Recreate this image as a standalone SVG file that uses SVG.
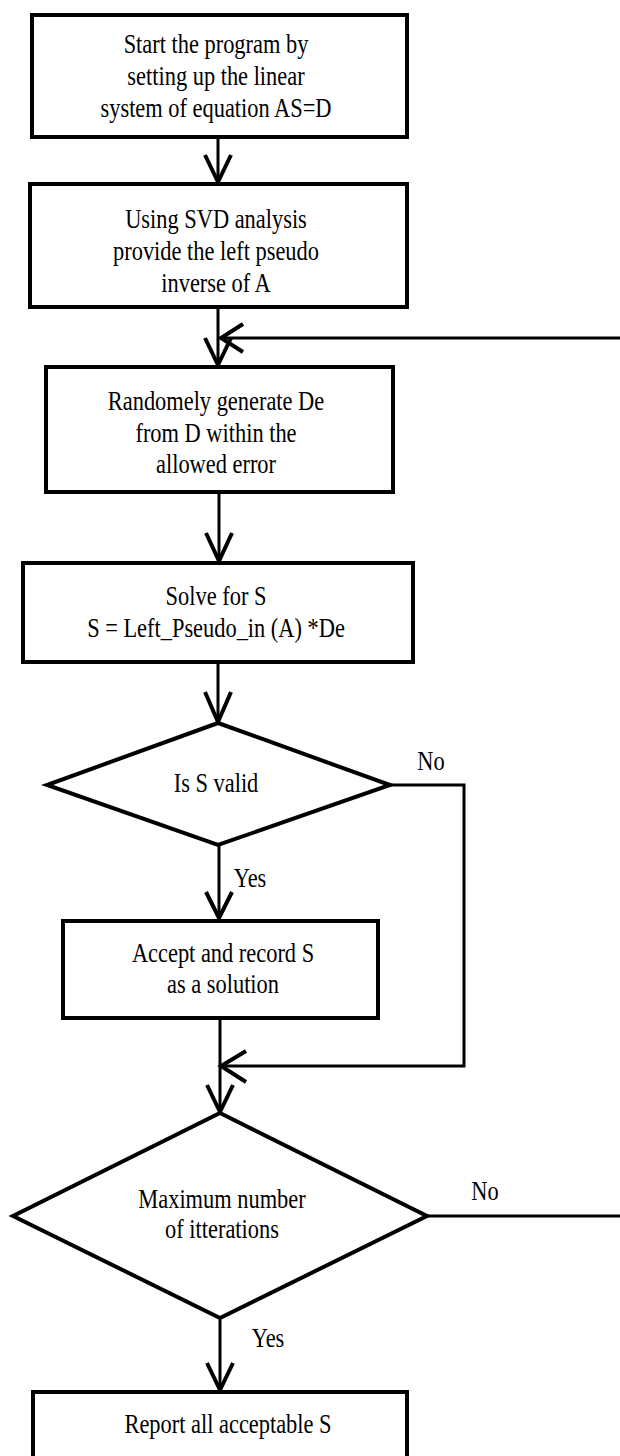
<svg xmlns="http://www.w3.org/2000/svg" width="620" height="1456" viewBox="0 0 620 1456">
<style>
.box{fill:#fff;stroke:#000;stroke-width:4}
.con{fill:none;stroke:#000;stroke-width:3}
.head{fill:none;stroke:#000;stroke-width:4}
text{font-family:"Liberation Serif","Times New Roman",serif;font-size:27px;fill:#000;text-anchor:middle}
</style>
<rect width="620" height="1456" fill="#fff"/>
<g id="connectors">
<path class="con" d="M218,137 V183"/>
<path class="head" d="M205,155 L218,182 L231,155"/>
<path class="con" d="M218,307 V365"/>
<path class="head" d="M205,338 L218,365 L231,338"/>
<path class="con" d="M620,338 H221"/>
<path class="head" d="M243,324 L221,338 L243,352"/>
<path class="con" d="M219,492 V561"/>
<path class="head" d="M206,533 L219,561 L232,533"/>
<path class="con" d="M218,662 V722"/>
<path class="head" d="M205,692 L218,722 L231,692"/>
<path class="con" d="M219,845 V918"/>
<path class="head" d="M206,892 L219,918 L232,892"/>
<path class="con" d="M390,785 H464 V1066 H221"/>
<path class="head" d="M246,1051 L221,1066 L246,1082"/>
<path class="con" d="M220,1018 V1112"/>
<path class="head" d="M207,1085 L220,1112 L233,1085"/>
<path class="con" d="M427,1216 H620"/>
<path class="con" d="M220,1318 V1390"/>
<path class="head" d="M207,1363 L220,1390 L233,1363"/>
<text transform="translate(431,770) scale(0.83,1)">No</text>
<text transform="translate(250,887) scale(0.83,1)">Yes</text>
<text transform="translate(485,1200) scale(0.83,1)">No</text>
<text transform="translate(268,1347) scale(0.83,1)">Yes</text>
</g>
<g id="n1">
<rect class="box" x="32" y="15" width="375" height="122"/>
<text transform="translate(216,53) scale(0.83,1)">Start the program by</text>
<text transform="translate(216,85) scale(0.83,1)">setting up the linear</text>
<text transform="translate(216,117) scale(0.83,1)">system of equation AS=D</text>
</g>
<g id="n2">
<rect class="box" x="30" y="184" width="377" height="123"/>
<text transform="translate(216,228) scale(0.83,1)">Using SVD analysis</text>
<text transform="translate(216,260) scale(0.83,1)">provide the left pseudo</text>
<text transform="translate(216,292) scale(0.83,1)">inverse of A</text>
</g>
<g id="n3">
<rect class="box" x="46" y="367" width="347" height="125"/>
<text transform="translate(216,410) scale(0.83,1)">Randomely generate De</text>
<text transform="translate(216,442) scale(0.83,1)">from D within the</text>
<text transform="translate(216,473) scale(0.83,1)">allowed error</text>
</g>
<g id="n4">
<rect class="box" x="23" y="563" width="390" height="99"/>
<text transform="translate(216,605) scale(0.83,1)">Solve for S</text>
<text transform="translate(216,637) scale(0.83,1)">S = Left_Pseudo_in (A) *De</text>
</g>
<g id="n5">
<polygon class="box" points="218,723 390,785 218,845 47,785"/>
<text transform="translate(216,792) scale(0.83,1)">Is S valid</text>
</g>
<g id="n6">
<rect class="box" x="63" y="921" width="315" height="97"/>
<text transform="translate(223,962) scale(0.83,1)">Accept and record S</text>
<text transform="translate(223,993) scale(0.83,1)">as a solution</text>
</g>
<g id="n7">
<polygon class="box" points="220,1113 427,1216 220,1318 13,1216"/>
<text transform="translate(222,1208) scale(0.83,1)">Maximum number</text>
<text transform="translate(222,1238) scale(0.83,1)">of itterations</text>
</g>
<g id="n8">
<rect class="box" x="33" y="1392" width="374" height="80"/>
<text transform="translate(228,1433) scale(0.83,1)">Report all acceptable S</text>
</g>
</svg>
